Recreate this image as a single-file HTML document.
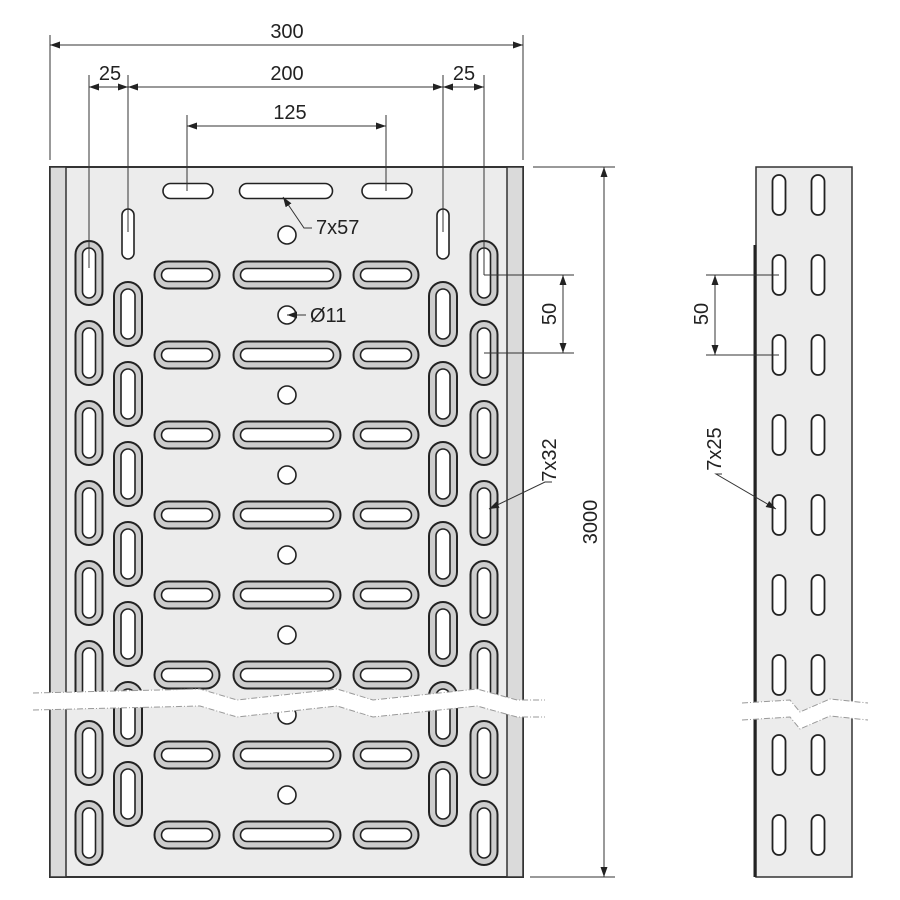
<!DOCTYPE html>
<html><head><meta charset="utf-8"><style>
html,body{margin:0;padding:0;background:#fff;width:900px;height:900px;overflow:hidden}
svg{display:block}
text{font-family:"Liberation Sans",sans-serif;font-size:20px;fill:#222}
</style></head><body>
<svg id="s" width="900" height="900" viewBox="0 0 900 900" xmlns="http://www.w3.org/2000/svg">
<defs>
<marker id="a" viewBox="0 0 10 10" refX="10" refY="5" markerWidth="10" markerHeight="10" markerUnits="userSpaceOnUse" orient="auto-start-reverse"><path d="M0,1.5 L10,5 L0,8.5z" fill="#222"/></marker>
</defs>
<rect x="50" y="167" width="473" height="710" fill="#ececec" stroke="#333" stroke-width="2"/>
<rect x="50" y="167" width="16" height="710" fill="#dadada" stroke="#333" stroke-width="1.5"/>
<rect x="507" y="167" width="16" height="710" fill="#dadada" stroke="#333" stroke-width="1.5"/>
<g id="g1"></g>
<rect x="756" y="167" width="96" height="710" fill="#ececec" stroke="#333" stroke-width="1.5"/>
<line x1="755" y1="245" x2="755" y2="877" stroke="#222" stroke-width="3"/>
<g id="g2"></g>
<path d="M33,693 L200,689 L237,700 L337,689 L373,700 L477,689 L517,700 L545,700 L545,717 L517,717 L477,706 L373,717 L337,706 L237,717 L200,706 L33,710Z" fill="#fff"/>
<path d="M33,693 L200,689 L237,700 L337,689 L373,700 L477,689 L517,700 L545,700" fill="none" stroke="#999" stroke-width="1" stroke-dasharray="6,2,1,2"/>
<path d="M33,710 L200,706 L237,717 L337,706 L373,717 L477,706 L517,717 L545,717" fill="none" stroke="#999" stroke-width="1" stroke-dasharray="6,2,1,2"/>
<path d="M742,703 L790,700 L800,712 L830,699 L868,703 L868,720 L830,716 L800,729 L790,717 L742,720Z" fill="#fff"/>
<path d="M742,703 L790,700 L800,712 L830,699 L868,703" fill="none" stroke="#999" stroke-dasharray="6,2,1,2"/>
<path d="M742,720 L790,717 L800,729 L830,716 L868,720" fill="none" stroke="#999" stroke-dasharray="6,2,1,2"/>
<g stroke="#333" stroke-width="1" fill="none">
<line x1="50" y1="35" x2="50" y2="160"/><line x1="523" y1="35" x2="523" y2="160"/>
<line x1="50" y1="45" x2="523" y2="45" marker-start="url(#a)" marker-end="url(#a)"/>
<line x1="89" y1="75" x2="89" y2="268"/><line x1="128" y1="75" x2="128" y2="232"/>
<line x1="443" y1="75" x2="443" y2="232"/><line x1="484" y1="75" x2="484" y2="275"/>
<line x1="89" y1="87" x2="128" y2="87" marker-start="url(#a)" marker-end="url(#a)"/>
<line x1="128" y1="87" x2="443" y2="87" marker-start="url(#a)" marker-end="url(#a)"/>
<line x1="443" y1="87" x2="484" y2="87" marker-start="url(#a)" marker-end="url(#a)"/>
<line x1="187" y1="115" x2="187" y2="191"/><line x1="386" y1="115" x2="386" y2="191"/>
<line x1="187" y1="126" x2="386" y2="126" marker-start="url(#a)" marker-end="url(#a)"/>
<line x1="533" y1="167" x2="615" y2="167"/><line x1="530" y1="877" x2="615" y2="877"/>
<line x1="604" y1="167" x2="604" y2="877" marker-start="url(#a)" marker-end="url(#a)"/>
<line x1="484" y1="275" x2="574" y2="275"/><line x1="484" y1="353" x2="574" y2="353"/>
<line x1="563" y1="275" x2="563" y2="353" marker-start="url(#a)" marker-end="url(#a)"/>
<path d="M552,482 L545,482 L489,509" marker-end="url(#a)"/>
<path d="M312,228 L304,228 L283,197" marker-end="url(#a)"/>
<path d="M306,315 L287,315" marker-end="url(#a)"/>
<line x1="706" y1="275" x2="779" y2="275"/><line x1="706" y1="355" x2="779" y2="355"/>
<line x1="715" y1="275" x2="715" y2="355" marker-start="url(#a)" marker-end="url(#a)"/>
<path d="M722,474 L716,474 L776,509" marker-end="url(#a)"/>
</g>
<text x="287" y="38" text-anchor="middle">300</text>
<text x="110" y="80" text-anchor="middle">25</text>
<text x="287" y="80" text-anchor="middle">200</text>
<text x="464" y="80" text-anchor="middle">25</text>
<text x="290" y="119" text-anchor="middle">125</text>
<text x="316" y="234">7x57</text>
<text x="310" y="322">Ø11</text>
<text transform="translate(556,314) rotate(-90)" text-anchor="middle">50</text>
<text transform="translate(556,460) rotate(-90)" text-anchor="middle">7x32</text>
<text transform="translate(597,522) rotate(-90)" text-anchor="middle">3000</text>
<text transform="translate(708,314) rotate(-90)" text-anchor="middle">50</text>
<text transform="translate(721,449) rotate(-90)" text-anchor="middle">7x25</text>
</svg>
<script>
var NS="http://www.w3.org/2000/svg";
function R(g,x,y,w,h,f,sw){var r=document.createElementNS(NS,"rect");r.setAttribute("x",x-w/2);r.setAttribute("y",y-h/2);r.setAttribute("width",w);r.setAttribute("height",h);var rr=Math.min(w,h)/2;r.setAttribute("rx",rr);r.setAttribute("ry",rr);r.setAttribute("fill",f);r.setAttribute("stroke","#222");r.setAttribute("stroke-width",sw);g.appendChild(r);}
function E(g,x,y,w,h){R(g,x,y,w,h,"#cdcdcd",2);R(g,x,y,w-14,h-14,"#fff",1.6);}
var g=document.getElementById("g1");
[273,353,433,513,593,673,753,833].forEach(function(y){E(g,89,y,27,64);E(g,484,y,27,64);});
[314,394,474,554,634,714,794].forEach(function(y){E(g,128,y,28,64);E(g,443,y,28,64);});
R(g,128,234,12,50,"#fff",1.6);R(g,443,234,12,50,"#fff",1.6);
R(g,188,191,50,15,"#fff",1.6);R(g,286,191,93,15,"#fff",1.6);R(g,387,191,50,15,"#fff",1.6);
[275,355,435,515,595,675,755,835].forEach(function(y){E(g,187,y,65,27);E(g,287,y,107,27);E(g,386,y,65,27);});
[235,315,395,475,555,635,715,795].forEach(function(y){var c=document.createElementNS(NS,"circle");c.setAttribute("cx",287);c.setAttribute("cy",y);c.setAttribute("r",9);c.setAttribute("fill","#fff");c.setAttribute("stroke","#222");c.setAttribute("stroke-width",1.6);g.appendChild(c);});
var g2=document.getElementById("g2");
[195,275,355,435,515,595,675,755,835].forEach(function(y){R(g2,779,y,13,40,"#fff",1.8);R(g2,818,y,13,40,"#fff",1.8);});
</script>
</body></html>
